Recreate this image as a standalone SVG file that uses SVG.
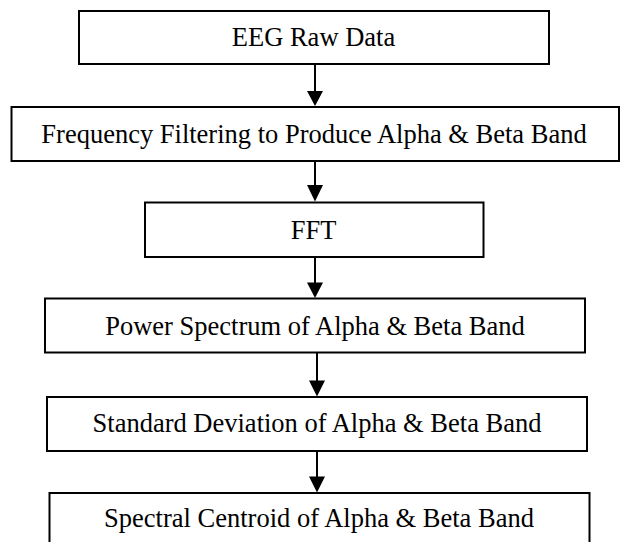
<svg xmlns="http://www.w3.org/2000/svg" width="621" height="542" viewBox="0 0 621 542">
<style>
.box{fill:#fff;stroke:#000;stroke-width:2}
.lbl{font-family:"Liberation Serif","Times New Roman",serif;font-size:26.5px;fill:#000;text-anchor:middle}
.ln{stroke:#000;stroke-width:2;fill:none}
.hd{fill:#000;stroke:none}
</style>
<rect width="621" height="542" fill="#fff"/>
<g id="connectors">
<line class="ln" x1="315" y1="64" x2="315" y2="92"/><polygon class="hd" points="307,91 323,91 315,106"/>
<line class="ln" x1="315" y1="161" x2="315" y2="186"/><polygon class="hd" points="307,185 323,185 315,201.5"/>
<line class="ln" x1="315" y1="257" x2="315" y2="283"/><polygon class="hd" points="307,282.5 323,282.5 315,298"/>
<line class="ln" x1="317" y1="353" x2="317" y2="381"/><polygon class="hd" points="309,380.5 325,380.5 317,396.5"/>
<line class="ln" x1="317" y1="451" x2="317" y2="477"/><polygon class="hd" points="309,476.5 325,476.5 317,492.5"/>
</g>
<g id="n1"><rect class="box" x="79" y="11" width="470" height="53"/><text class="lbl" x="313.5" y="46">EEG Raw Data</text></g>
<g id="n2"><rect class="box" x="11.5" y="107" width="607.5" height="54"/><text class="lbl" x="314" y="143">Frequency Filtering to Produce Alpha &amp; Beta Band</text></g>
<g id="n3"><rect class="box" x="145" y="202.5" width="338.5" height="54.5"/><text class="lbl" x="313.5" y="239">FFT</text></g>
<g id="n4"><rect class="box" x="45" y="298.5" width="540" height="54"/><text class="lbl" x="315" y="335">Power Spectrum of Alpha &amp; Beta Band</text></g>
<g id="n5"><rect class="box" x="47" y="397" width="540" height="54"/><text class="lbl" x="317" y="431.5">Standard Deviation of Alpha &amp; Beta Band</text></g>
<g id="n6"><rect class="box" x="49.5" y="493" width="540" height="60"/><text class="lbl" x="319" y="526.5">Spectral Centroid of Alpha &amp; Beta Band</text></g>
</svg>
